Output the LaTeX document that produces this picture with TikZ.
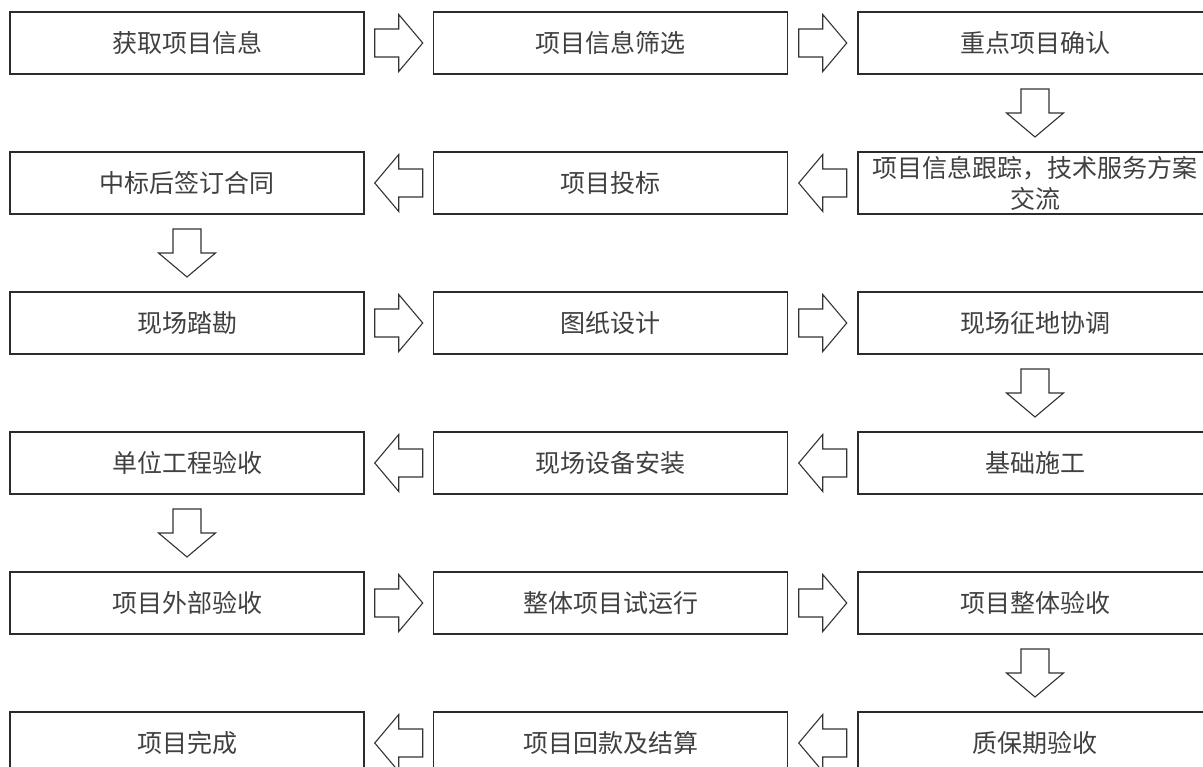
\documentclass[tikz,border=0pt]{standalone}
\usepackage{fontspec}
\setmainfont{Noto Sans CJK SC}
\usetikzlibrary{calc}
\definecolor{boxink}{HTML}{2B2B2B}
\definecolor{arrowink}{HTML}{333333}
\definecolor{textink}{HTML}{404040}
\tikzset{
  stepBox/.style={draw=boxink, line width=1.3pt, minimum width=354pt, minimum height=62pt, align=center, inner sep=0pt, text=textink},
  blockArrow/.style={draw=arrowink, line width=1.1pt, fill=white, line join=miter},
  flowArrow/.pic={\draw[blockArrow] (-24,-14) -- (0,-14) -- (0,-28.5) -- (24,0) -- (0,28.5) -- (0,14) -- (-24,14) -- cycle;}
}

\begin{document}
\begin{tikzpicture}[x=1pt,y=1pt,font=\fontsize{25pt}{31pt}\selectfont]
  \fill[white] (0,0) rectangle (1203,-767);
  \clip (0,0) rectangle (1203,-767);

  % row 1
  \node[stepBox] (s1) at (187,-43) {获取项目信息};
  \node[stepBox] (s2) at (610.5,-43) {项目信息筛选};
  \node[stepBox] (s3) at (1035,-43) {重点项目确认};
  % row 2
  \node[stepBox] (s4) at (1035,-183) {项目信息跟踪，技术服务方案\\交流};
  \node[stepBox] (s5) at (610.5,-183) {项目投标};
  \node[stepBox] (s6) at (187,-183) {中标后签订合同};
  % row 3
  \node[stepBox] (s7) at (187,-323) {现场踏勘};
  \node[stepBox] (s8) at (610.5,-323) {图纸设计};
  \node[stepBox] (s9) at (1035,-323) {现场征地协调};
  % row 4
  \node[stepBox] (s10) at (1035,-463) {基础施工};
  \node[stepBox] (s11) at (610.5,-463) {现场设备安装};
  \node[stepBox] (s12) at (187,-463) {单位工程验收};
  % row 5
  \node[stepBox] (s13) at (187,-603) {项目外部验收};
  \node[stepBox] (s14) at (610.5,-603) {整体项目试运行};
  \node[stepBox] (s15) at (1035,-603) {项目整体验收};
  % row 6
  \node[stepBox] (s16) at (1035,-743) {质保期验收};
  \node[stepBox] (s17) at (610.5,-743) {项目回款及结算};
  \node[stepBox] (s18) at (187,-743) {项目完成};

  % block arrows
  \pic at ($(s1.east)!0.5!(s2.west)$) {flowArrow};
  \pic at ($(s2.east)!0.5!(s3.west)$) {flowArrow};
  \pic[rotate=-90] at ($(s3.south)!0.5!(s4.north)$) {flowArrow};
  \pic[rotate=180] at ($(s4.west)!0.5!(s5.east)$) {flowArrow};
  \pic[rotate=180] at ($(s5.west)!0.5!(s6.east)$) {flowArrow};
  \pic[rotate=-90] at ($(s6.south)!0.5!(s7.north)$) {flowArrow};
  \pic at ($(s7.east)!0.5!(s8.west)$) {flowArrow};
  \pic at ($(s8.east)!0.5!(s9.west)$) {flowArrow};
  \pic[rotate=-90] at ($(s9.south)!0.5!(s10.north)$) {flowArrow};
  \pic[rotate=180] at ($(s10.west)!0.5!(s11.east)$) {flowArrow};
  \pic[rotate=180] at ($(s11.west)!0.5!(s12.east)$) {flowArrow};
  \pic[rotate=-90] at ($(s12.south)!0.5!(s13.north)$) {flowArrow};
  \pic at ($(s13.east)!0.5!(s14.west)$) {flowArrow};
  \pic at ($(s14.east)!0.5!(s15.west)$) {flowArrow};
  \pic[rotate=-90] at ($(s15.south)!0.5!(s16.north)$) {flowArrow};
  \pic[rotate=180] at ($(s16.west)!0.5!(s17.east)$) {flowArrow};
  \pic[rotate=180] at ($(s17.west)!0.5!(s18.east)$) {flowArrow};
\end{tikzpicture}
\end{document}
